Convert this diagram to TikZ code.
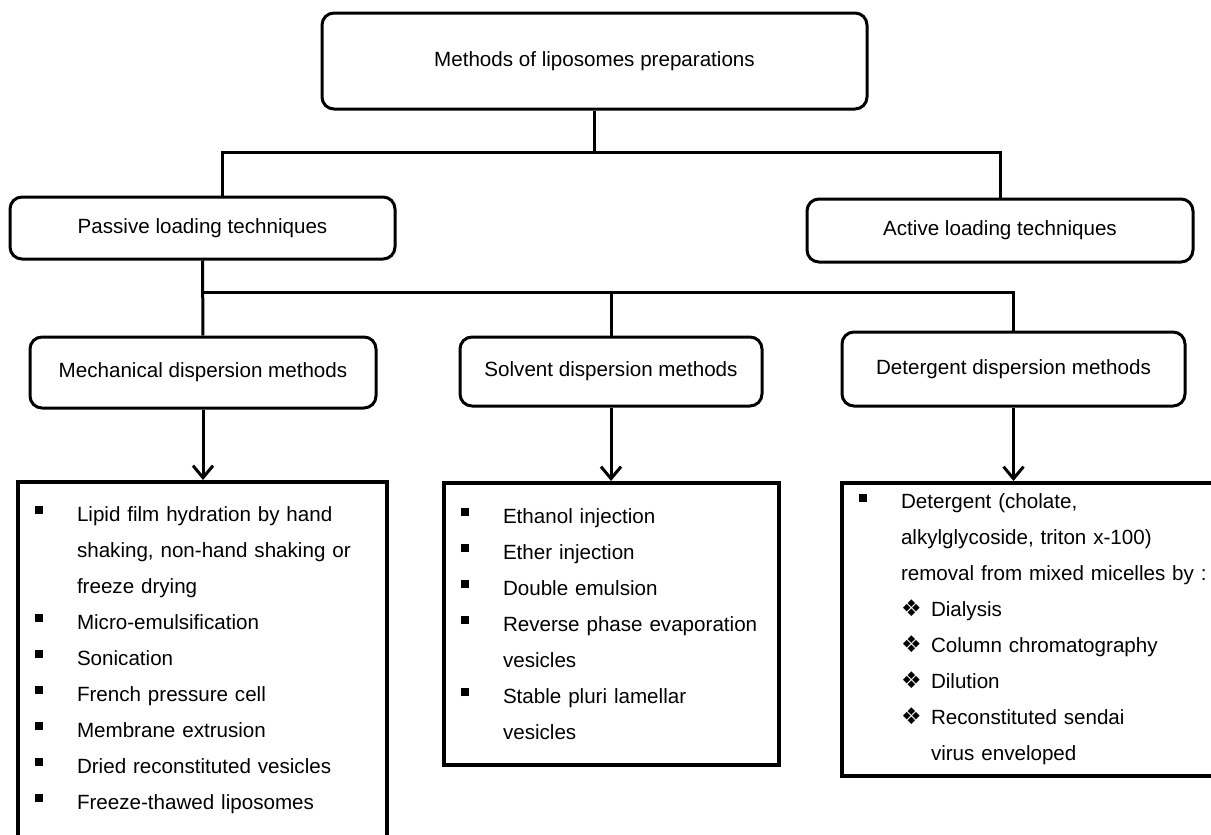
\documentclass[tikz,border=0pt]{standalone}
\usepackage{fontspec}
\setmainfont{Liberation Sans}
\newfontfamily\dingfont{DejaVu Sans}
\usepackage{tikz}
\usetikzlibrary{arrows.meta,positioning}

\newcommand\sqbul{\makebox[21pt][l]{\rule[3.5pt]{4pt}{4pt}}}
\newcommand\skipbul{\hspace*{21pt}}
\newcommand\dmbul{\hspace*{21pt}\makebox[15pt][l]{\dingfont\fontsize{11.5}{11.5}\selectfont ❖}}

\tikzset{
  methodbox/.style={draw, line width=1.5pt, rounded corners=6pt, align=center},
  listbox/.style={draw, line width=2pt, align=left, inner xsep=8.5pt},
  conn/.style={line width=1.5pt},
  arr/.style={line width=1.5pt, -{Straight Barb[length=6pt,width=10pt]}},
}

\begin{document}
\begin{tikzpicture}[x=0.5pt, y=-0.5pt, font=\fontsize{10.3}{18}\selectfont]
  \useasboundingbox (0,0) rectangle (1211,835);

  % heads of the tree
  \node[methodbox, minimum width=272.5pt, minimum height=48pt] (top) at (594.5,61) {Methods of liposomes preparations};
  \node[methodbox, minimum width=192.5pt, minimum height=31pt] (passive) at (202.5,228) {Passive loading techniques};
  \node[methodbox, minimum width=193pt, minimum height=31.5pt] (active) at (1000,230.5) {Active loading techniques};
  \node[methodbox, minimum width=173pt, minimum height=35.5pt] (mech) at (203,372.5) {Mechanical dispersion methods};
  \node[methodbox, minimum width=151pt, minimum height=34.5pt] (solvent) at (611,371.5) {Solvent dispersion methods};
  \node[methodbox, minimum width=171.5pt, minimum height=37pt] (detergent) at (1013.5,369) {Detergent dispersion methods};

  % lists of methods
  \node[listbox, text width=167.5pt, minimum height=178pt] (mechlist) at (202.5,660) {%
    \sqbul Lipid film hydration by hand\\
    \skipbul shaking, non-hand shaking or\\
    \skipbul freeze drying\\
    \sqbul Micro-emulsification\\
    \sqbul Sonication\\
    \sqbul French pressure cell\\
    \sqbul Membrane extrusion\\
    \sqbul Dried reconstituted vesicles\\
    \sqbul Freeze-thawed liposomes};
  \node[listbox, text width=150.5pt, minimum height=141pt] (solvlist) at (611.5,624) {%
    \sqbul Ethanol injection\\
    \sqbul Ether injection\\
    \sqbul Double emulsion\\
    \sqbul Reverse phase evaporation\\
    \skipbul vesicles\\
    \sqbul Stable pluri lamellar\\
    \skipbul vesicles};
  \node[listbox, text width=172pt, minimum height=146.5pt] (detlist) at (1031,629.5) {%
    \sqbul Detergent (cholate,\\
    \skipbul alkylglycoside, triton x-100)\\
    \skipbul\mbox{removal from mixed micelles by :}\\
    \dmbul Dialysis\\
    \dmbul Column chromatography\\
    \dmbul Dilution\\
    \dmbul Reconstituted sendai\\
    \skipbul\hspace*{15pt}virus enveloped};

  % connectors
  \coordinate (tbar) at (0,152);
  \coordinate (mbar) at (0,292);
  \draw[conn] (top.south) -- (top.south |- tbar);
  \draw[conn] ([xshift=10pt]passive.north) |- (active.north |- tbar) -- (active.north);
  \draw[conn] (passive.south) -- (mech.north);
  \draw[conn] (passive.south |- mbar) -| (detergent.north);
  \draw[conn] (solvent.north) -- (solvent.north |- mbar);

  \draw[arr] (mech.south) -- (mech.south |- mechlist.north);
  \draw[arr] (solvent.south) -- (solvent.south |- solvlist.north);
  \draw[arr] (detergent.south) -- (detergent.south |- detlist.north);
\end{tikzpicture}
\end{document}
